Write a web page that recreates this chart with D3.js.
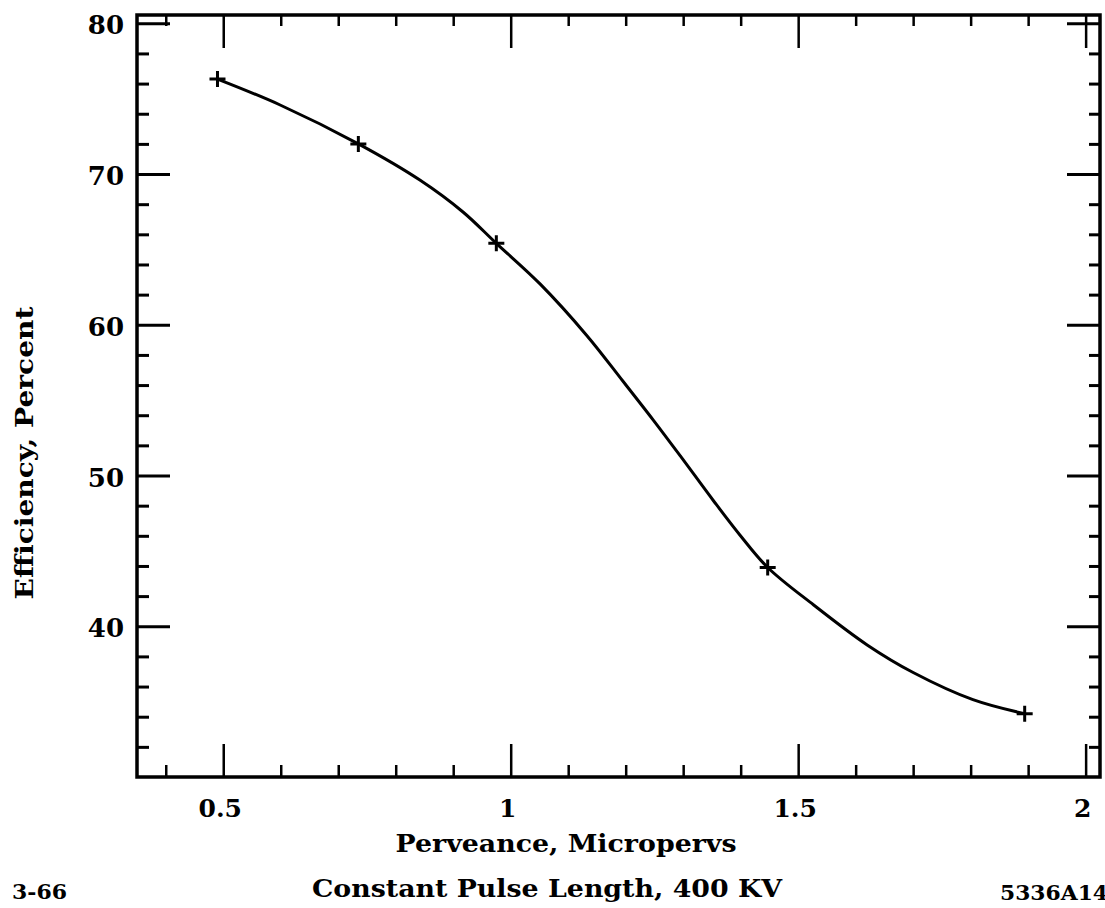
<!DOCTYPE html>
<html>
<head>
<meta charset="utf-8">
<script src="https://cdn.jsdelivr.net/npm/d3@7"></script>
<style>
  body { margin: 0; background: #fff; }
  text { font-family: "DejaVu Serif", serif; font-weight: bold; fill: #000; }
</style>
</head>
<body>
<div class="canvas"></div>
<script>
// measured points (markers)
const perveance = [0.49, 0.735, 0.975, 1.447, 1.894];
const efficiency = [76.3, 72.0, 65.4, 43.9, 34.2];

// points
const curveX = [0.49, 0.599, 0.735, 0.842, 0.917, 0.975, 1.051, 1.133, 1.195, 1.248, 1.295, 1.353, 1.4, 1.447, 1.527, 1.62, 1.7, 1.804, 1.894];
const curveY = [76.3, 74.58, 72.0, 69.6, 67.48, 65.4, 62.71, 59.26, 56.27, 53.68, 51.3, 48.31, 45.99, 43.9, 41.41, 38.76, 36.93, 35.13, 34.2];

const xMajor = [0.5, 1, 1.5, 2];
const xLabels = ["0.5", "1", "1.5", "2"];
const xMinor = [0.4, 0.6, 0.7, 0.8, 0.9, 1.1, 1.2, 1.3, 1.4, 1.6, 1.7, 1.8, 1.9];
const yMajor = [40, 50, 60, 70, 80];
const yLabels = ["40", "50", "60", "70", "80"];
const yMinor = [32, 34, 36, 38, 42, 44, 46, 48, 52, 54, 56, 58, 62, 64, 66, 68, 72, 74, 76, 78];

const svg = d3.select(".canvas").append("svg").attr("width", 1105).attr("height", 908);

const mLeft = 137, mRight = 1100, mTop = 15, mBottom = 777;
let x = d3.scaleLinear().domain([0.35, 2.025]).range([mLeft, mRight]);
let y = d3.scaleLinear().domain([30, 80.55]).range([mBottom, mTop]);

let ticks = (gen, pos, values, size, width) => {
  let g = svg.append("g").attr("transform", pos)
    .call(gen.tickValues(values).tickSize(-size).tickFormat(""));
  g.select(".domain").remove();
  g.selectAll("line").attr("stroke", "#000").attr("stroke-width", width);
  return g;
};

// bottom + top
ticks(d3.axisBottom(x), `translate(0,${mBottom})`, xMajor, 33, 2.5);
ticks(d3.axisBottom(x), `translate(0,${mBottom})`, xMinor, 12, 2.5);
ticks(d3.axisTop(x), `translate(0,${mTop})`, xMajor, 33, 2.5);
ticks(d3.axisTop(x), `translate(0,${mTop})`, xMinor, 11, 2.5);
// left + right
ticks(d3.axisLeft(y), `translate(${mLeft},0)`, yMajor, 33, 3);
ticks(d3.axisLeft(y), `translate(${mLeft},0)`, yMinor, 12, 3);
ticks(d3.axisRight(y), `translate(${mRight},0)`, yMajor, 33, 3);
ticks(d3.axisRight(y), `translate(${mRight},0)`, yMinor, 11, 3);

// frame
svg.append("rect")
  .attr("x", mLeft).attr("y", mTop)
  .attr("width", mRight - mLeft).attr("height", mBottom - mTop)
  .attr("fill", "none").attr("stroke", "#000").attr("stroke-width", 3.5);

// tick labels
svg.selectAll(".xl").data(xMajor).join("text")
  .attr("x", (d) => x(d) - 3)
  .attr("y", 817)
  .attr("text-anchor", "middle")
  .style("font-size", "25px")
  .text((d, i) => xLabels[i]);

svg.selectAll(".yl").data(yMajor).join("text")
  .attr("x", 124)
  .attr("y", (d) => y(d) + 11)
  .attr("text-anchor", "end")
  .style("font-size", "26px")
  .text((d, i) => yLabels[i]);

// curve
let pts = curveX.map((v, i) => [v, curveY[i]]);
let line = d3.line().x((d) => x(d[0])).y((d) => y(d[1])).curve(d3.curveCatmullRom.alpha(0.5));
svg.append("path")
  .attr("d", line(pts))
  .attr("fill", "none")
  .attr("stroke", "#000")
  .attr("stroke-width", 3);

// markers
let arm = 8;
svg.selectAll(".mk").data(perveance).join("path")
  .attr("d", (d, i) => {
    let cx = x(d), cy = y(efficiency[i]);
    return `M${cx - arm},${cy}H${cx + arm}M${cx},${cy - arm}V${cy + arm}`;
  })
  .attr("stroke", "#000")
  .attr("stroke-width", 3);

// titles
svg.append("text")
  .attr("x", 566).attr("y", 852)
  .attr("text-anchor", "middle")
  .attr("textLength", 341).attr("lengthAdjust", "spacingAndGlyphs")
  .style("font-size", "25px")
  .text("Perveance, Micropervs");

svg.append("text")
  .attr("x", 547).attr("y", 897)
  .attr("text-anchor", "middle")
  .attr("textLength", 470).attr("lengthAdjust", "spacingAndGlyphs")
  .style("font-size", "25px")
  .text("Constant Pulse Length, 400 KV");

svg.append("text")
  .attr("transform", "translate(33,453) rotate(-90)")
  .attr("text-anchor", "middle")
  .attr("textLength", 293).attr("lengthAdjust", "spacingAndGlyphs")
  .style("font-size", "25px")
  .text("Efficiency, Percent");

svg.append("text")
  .attr("x", 12).attr("y", 899)
  .attr("textLength", 55).attr("lengthAdjust", "spacingAndGlyphs")
  .style("font-size", "21px")
  .text("3-66");

svg.append("text")
  .attr("x", 1000).attr("y", 900)
  .attr("textLength", 108).attr("lengthAdjust", "spacingAndGlyphs")
  .style("font-size", "21px")
  .text("5336A14");
</script>
</body>
</html>
